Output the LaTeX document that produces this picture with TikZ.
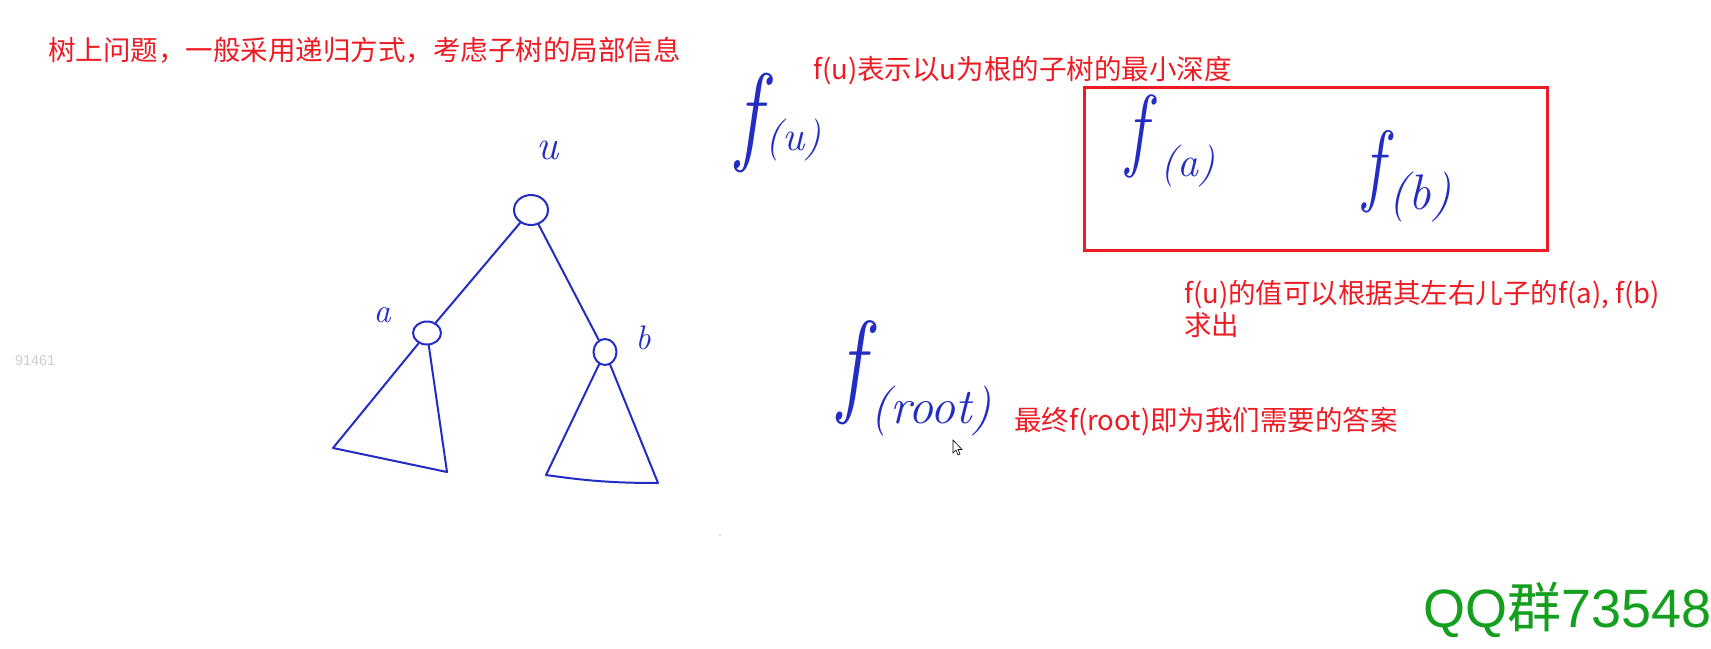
\documentclass[tikz,border=0pt]{standalone}
\usepackage{fontspec}
\newfontfamily\cjkfont{Noto Sans CJK SC}
\newfontfamily\arialfont{Liberation Sans}
\usetikzlibrary{shapes.geometric, positioning}
\definecolor{notered}{RGB}{237, 28, 36}
\definecolor{penblue}{RGB}{35, 45, 195}
\definecolor{qqgreen}{RGB}{20, 160, 30}
\definecolor{markgrey}{RGB}{205, 205, 205}

\begin{document}
\begin{tikzpicture}[x=1pt, y=-1pt,
  note/.style={anchor=base west, inner sep=0pt, text=notered, font=\cjkfont\fontsize{27.5}{33}\selectfont},
  pen/.style={draw=penblue, line width=2pt, line cap=round, line join=round},
  treenode/.style={pen, ellipse, inner sep=0pt},
  hand/.style={inner sep=0pt, text=penblue, font=\itshape}]
  \fill[white] (0,0) rectangle (1711,648);
  \useasboundingbox (0,0) rectangle (1711,648);

  % notes
  \node[note] (topic) at (48,60) {树上问题，一般采用递归方式，考虑子树的局部信息};
  \node[note] (defn) at (813,79) {f(u)表示以u为根的子树的最小深度};
  \node[note] (rule) at (1184,303) {f(u)的值可以根据其左右儿子的f(a), f(b)};
  \node[note] (ruletail) at (1184,335) {求出};
  \node[note] (answer) at (1014,430) {最终f(root)即为我们需要的答案};
  \draw[draw=notered, line width=3pt] (1084,87) rectangle (1547,250);

  % tree
  \node[treenode, minimum width=34pt, minimum height=30pt] (u) at (531,210) {};
  \node[treenode, minimum width=28pt, minimum height=23pt] (a) at (427,333) {};
  \node[treenode, minimum width=23pt, minimum height=26pt] (b) at (605,352) {};
  \node[hand, font=\itshape\fontsize{42}{42}\selectfont] (ulabel) at (548,150) {u};
  \node[hand, font=\itshape\fontsize{34}{34}\selectfont] (alabel) at (382,315) {a};
  \node[hand, font=\itshape\fontsize{34}{34}\selectfont] (blabel) at (643,338) {b};
  \draw[pen] (u) -- (a);
  \draw[pen] (u) -- (b);
  \coordinate (aL) at (333,448);
  \coordinate (aR) at (447,472);
  \coordinate (bL) at (546,475);
  \coordinate (bR) at (658,483);
  \draw[pen] (a) -- (aL) -- (aR) -- (a);
  \draw[pen] (b) -- (bL) to[bend right=4] (bR) -- (b);

  % handwritten f
  \node[hand, anchor=base west] (fu) at (736,150)
    {\scalebox{0.75}[1]{\fontsize{110}{110}\selectfont f}\hspace{5pt}{\fontsize{42}{42}\selectfont(u)}};
  \node[hand, anchor=base west] (fa) at (1126,159)
    {\scalebox{0.75}[1]{\fontsize{92}{92}\selectfont f}\hspace{14pt}\raisebox{-17pt}{\fontsize{42}{42}\selectfont(a)}};
  \node[hand, anchor=base west] (fb) at (1363,194)
    {\scalebox{0.75}[1]{\fontsize{91}{91}\selectfont f}\hspace{5pt}\raisebox{-15pt}{\fontsize{50}{50}\selectfont(b)}};
  \node[hand, anchor=base west] (froot) at (838,401)
    {\scalebox{0.75}[1]{\fontsize{115}{115}\selectfont f}\hspace{6pt}\raisebox{-22pt}{\fontsize{50}{50}\selectfont(root)}};

  % screen marks
  \node[anchor=base west, inner sep=0pt, text=markgrey, font=\arialfont\fontsize{14.4}{16}\selectfont] (mark) at (15,365) {91461};
  \node[anchor=base east, inner sep=0pt, text=qqgreen, font=\arialfont\fontsize{54}{60}\selectfont] (qq) at (1712,627) {QQ{\cjkfont 群}73548};
  \draw[black, line width=0.6pt, fill=white] (953,440) -- (953,453) -- (956,450) -- (958,455)
    -- (960,454) -- (958,449.5) -- (962,449.5) -- cycle;
  \fill[markgrey] (720,535) circle (1.2);
\end{tikzpicture}
\end{document}
